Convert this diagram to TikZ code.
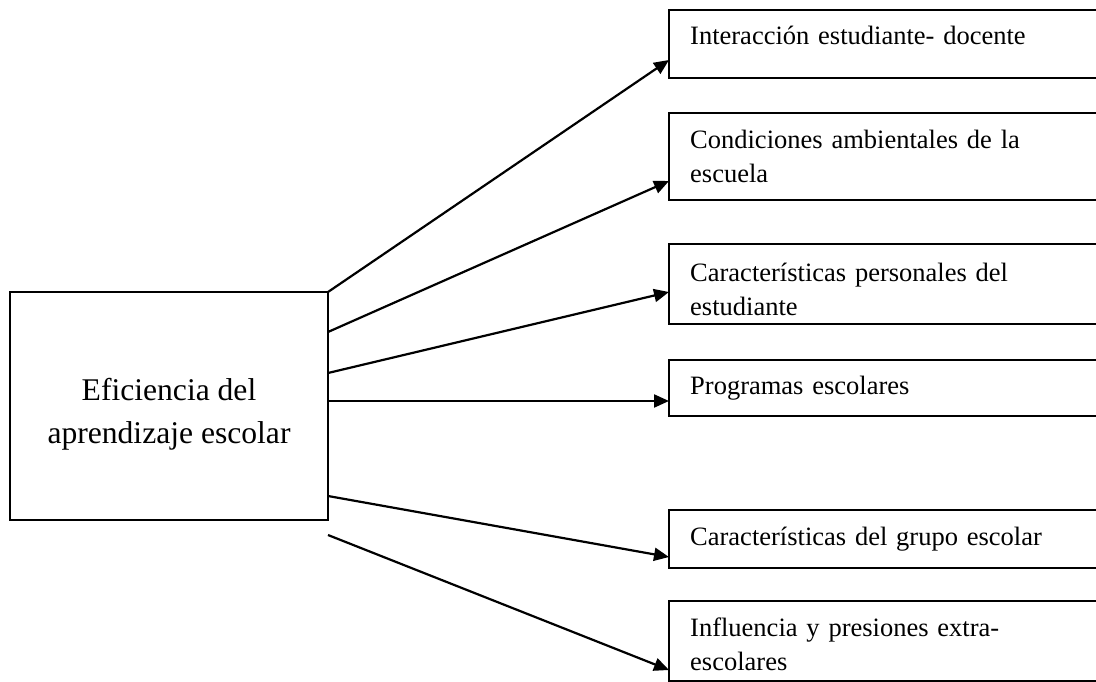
\documentclass[tikz,border=0pt]{standalone}
\usepackage{fontspec}
\setmainfont{Liberation Serif}
\usetikzlibrary{arrows.meta}
\begin{document}
\begin{tikzpicture}[x=1pt,y=-1pt,
  mainbox/.style={draw,line width=2.2pt,rectangle,minimum width=318pt,minimum height=228pt,inner sep=0pt,outer sep=0pt},
  maintext/.style={anchor=base,align=center,inner sep=0pt,font=\fontsize{31.6}{43}\selectfont},
  sidebox/.style={draw,line width=2.2pt,rectangle,anchor=north west,minimum width=440pt,inner sep=0pt,outer sep=0pt},
  sidetext/.style={anchor=base west,align=left,inner sep=0pt,text width=390pt,font=\fontsize{26.5}{34}\selectfont},
  arr/.style={line width=2.2pt,-{Triangle[length=15pt,width=13pt]}}
]
\useasboundingbox (0,0) rectangle (1096,682);
\fill[white] (0,0) rectangle (1096,682);

% main box
\node[mainbox] (m) at (169,406) {};
\node[maintext] (mt) at (169,443) {Eficiencia del\\aprendizaje escolar};

% side boxes
\node[sidebox,minimum height=68pt] (b1) at (669,10) {};
\node[sidetext] (t1) at (690,45) {Interacción estudiante- docente};

\node[sidebox,minimum height=87pt] (b2) at (669,113) {};
\node[sidetext] (t2) at (690,149) {Condiciones ambientales de la\\escuela};

\node[sidebox,minimum height=80pt] (b3) at (669,244) {};
\begin{scope}
  \clip (669,244) rectangle (1096,315);
  \node[sidetext] (t3) at (690,281) {Características personales del\\estudiante};
\end{scope}

\node[sidebox,minimum height=56pt] (b4) at (669,360) {};
\node[sidetext] (t4) at (690,394) {Programas escolares};

\node[sidebox,minimum height=58pt] (b5) at (669,510) {};
\node[sidetext] (t5) at (690,545) {Características del grupo escolar};

\node[sidebox,minimum height=80pt] (b6) at (669,601) {};
\node[sidetext] (t6) at (690,636) {Influencia y presiones extra-\\escolares};

% connectors
\coordinate (free6) at ([yshift=-15pt]m.south east);
\draw[arr] (m.north east) -- ([yshift=18pt]b1.south west);
\draw[arr] ([yshift=-40pt]m.north east) -- ([yshift=19pt]b2.south west);
\draw[arr] ([yshift=-81pt]m.north east) -- ([yshift=32pt]b3.south west);
\draw[arr] ([yshift=-109pt]m.north east) -- ([yshift=15pt]b4.south west);
\draw[arr] ([yshift=24pt]m.south east) -- ([yshift=11pt]b5.south west);
\draw[arr] (free6) -- ([yshift=11pt]b6.south west);
\end{tikzpicture}
\end{document}
